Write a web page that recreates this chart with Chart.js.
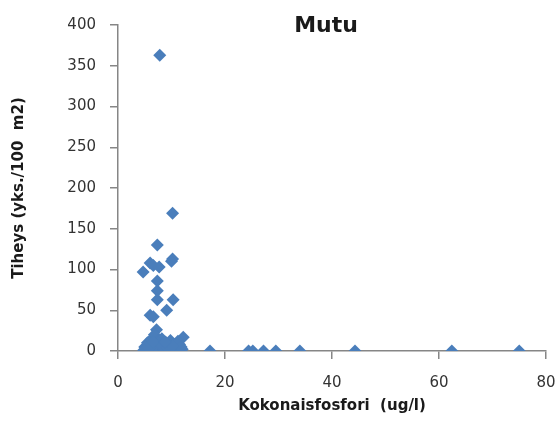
<!DOCTYPE html>
<html>
<head>
<meta charset="utf-8">
<script src="https://cdn.jsdelivr.net/npm/chart.js@4.4.1/dist/chart.umd.min.js"></script>
<style>
    html, body { margin: 0; padding: 0; background: #fff; }
    #wrap { width: 560px; height: 421px; }
</style>
</head>
<body>
<div id="wrap"><canvas id="mutuChart"></canvas></div>
<script>
/* datos: kokonaisfosfori (ug/l) vs tiheys (yks./100 m2) */
const fosfori = [
    7.8, 10.2, 7.35, 10.2, 10.0, 6.0, 4.7, 6.6, 7.7, 7.35, 7.35, 7.35, 10.3, 9.1, 6.0, 6.6, 7.2, 12.2,
    5.0, 5.5, 6.0, 6.5, 7.0, 7.5, 8.0, 8.5, 9.0, 9.5, 10.0, 10.5, 11.0, 11.5, 12.0,
    5.5, 6.2, 6.8, 7.5, 8.2, 9.0, 9.8, 10.5, 11.2, 7.0, 8.0, 6.0, 5.0,
    4.8, 6.3, 7.2, 8.6, 9.4, 10.8, 11.8, 5.8, 7.8, 9.2, 10.2, 6.6, 8.8,
    17.2, 24.4, 25.2, 27.2, 29.5, 34.0, 44.3, 62.4, 75.0
];
const tiheys = [
    363, 169, 130, 113, 110, 108, 97, 105, 103, 86, 74, 63, 63, 50, 44, 42, 26, 17,
    0, 2, 0, 5, 0, 3, 0, 6, 0, 2, 0, 4, 0, 8, 2,
    10, 14, 20, 12, 15, 10, 13, 8, 12, 8, 6, 6, 5,
    1, 1, 4, 1, 5, 1, 5, 3, 9, 4, 6, 11, 11,
    0, 0, 0, 0, 0, 0, 0, 0, 0
];
const tituloGrafico = "Mutu";
const tituloX = "Kokonaisfosfori  (ug/l)";
const tituloY = "Tiheys (yks./100  m2)";

const puntos = fosfori.map((x, i) => ({ x: x, y: tiheys[i] }));

const grisEje = "#868686";
const fuente = "'DejaVu Sans', sans-serif";

// titulo dibujado encima del area (como en el original)
const tituloPlugin = {
    id: "tituloMutu",
    afterDraw(chart) {
        const ctx = chart.ctx;
        ctx.save();
        ctx.font = "bold 22px " + fuente;
        ctx.fillStyle = "#1a1a1a";
        ctx.textAlign = "center";
        ctx.textBaseline = "middle";
        ctx.fillText(tituloGrafico, 326, 26);
        ctx.restore();
    },
};

document.addEventListener("DOMContentLoaded", function () {
    new Chart(document.getElementById("mutuChart"), {
        type: "scatter",
        data: {
            datasets: [
                {
                    label: tituloGrafico,
                    data: puntos,
                    pointStyle: "rectRot",
                    pointRadius: 6.5,
                    pointHoverRadius: 6.5,
                    pointBorderWidth: 0,
                    backgroundColor: "#4A7EBB",
                    borderColor: "#4A7EBB",
                },
            ],
        },
        options: {
            responsive: true,
            maintainAspectRatio: false,
            animation: false,
            layout: { padding: { top: 25, right: 14, left: 0, bottom: 0 } },
            plugins: {
                legend: { display: false },
                tooltip: { enabled: false },
            },
            scales: {
                x: {
                    type: "linear",
                    min: 0,
                    max: 80,
                    ticks: {
                        stepSize: 20,
                        padding: 15,
                        color: "#333",
                        font: { family: fuente, size: 15 },
                    },
                    grid: {
                        drawOnChartArea: false,
                        drawTicks: true,
                        tickLength: 8,
                        color: grisEje,
                        lineWidth: 1.5,
                    },
                    border: { color: grisEje, width: 1.5 },
                    title: {
                        display: true,
                        text: tituloX,
                        color: "#1a1a1a",
                        font: { family: fuente, size: 15, weight: "bold" },
                        padding: { top: 0, bottom: 6 },
                    },
                    afterFit: function (scale) {
                        scale.height = 70;
                        scale.paddingLeft = 0;
                        scale.paddingRight = 0;
                    },
                },
                y: {
                    min: 0,
                    max: 400,
                    ticks: {
                        stepSize: 50,
                        padding: 14,
                        color: "#333",
                        font: { family: fuente, size: 15 },
                    },
                    grid: {
                        drawOnChartArea: false,
                        drawTicks: true,
                        tickLength: 8,
                        color: grisEje,
                        lineWidth: 1.5,
                    },
                    border: { color: grisEje, width: 1.5 },
                    title: {
                        display: true,
                        text: tituloY,
                        color: "#1a1a1a",
                        font: { family: fuente, size: 15, weight: "bold" },
                        padding: { top: 10, bottom: 0 },
                    },
                    afterFit: function (scale) {
                        scale.width = 118;
                        scale.paddingTop = 0;
                        scale.paddingBottom = 0;
                    },
                },
            },
        },
        plugins: [tituloPlugin],
    });
});
</script>
</body>
</html>
